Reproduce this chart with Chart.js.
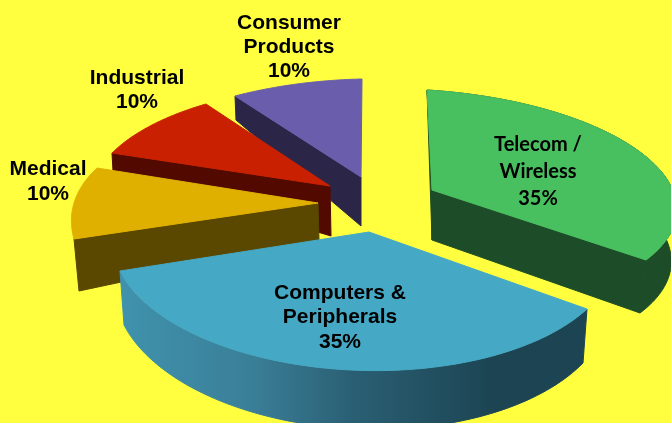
<!DOCTYPE html>
<html>
<head>
<meta charset="utf-8">
<script src="https://cdn.jsdelivr.net/npm/chart.js@4/dist/chart.umd.js"></script>
<style>
    html, body { margin: 0; padding: 0; background: #ffff40; }
    canvas { display: block; }
</style>
</head>
<body>
<canvas id="marketPie" width="671" height="423"></canvas>
<script>
const categories = ['Telecom / Wireless', 'Computers & Peripherals', 'Medical', 'Industrial', 'Consumer Products'];
const shares = [35, 35, 10, 10, 10];

const topColors = ['#48c060', '#45a8c4', '#e0b000', '#c82000', '#6a5dab'];
const wallColors = ['#1d4d28', '#1c4453', '#5a4700', '#520a00', '#2b2548'];

// Screen corners of each exploded slice (apex, arc start, arc middle, arc end)
const sliceShapes = [
    { top: [[432, 190], [427, 90], [640, 152], [646, 260]], low: [[432, 240], [431, 141], [636, 204], [640, 313]], walls: ['sliver', 'end', 'outer'] },
    { top: [[369, 232], [587, 309], [335, 369], [120, 271]], low: [[369, 282], [583, 363], [340, 428], [124, 325]], walls: ['outer'] },
    { top: [[318, 203], [74, 239], [75, 200], [97, 168]], low: [[319, 240], [79, 291], [79, 250], [100, 215]], walls: ['start'] },
    { top: [[330, 186], [112, 153], [152, 125], [206, 104]], low: [[331, 236], [113, 171], [152, 143], [206, 122]], walls: ['start'] },
    { top: [[361, 177], [235, 96], [297, 84], [362, 79]], low: [[361, 226], [236, 120], [297, 108], [362, 103]], walls: ['start'] }
];
const drawOrder = [4, 3, 2, 0, 1];

const labelSpots = [
    { x: 538, y: 145, gap: 27, font: 'bold 20px Lato', lines: ['Telecom /', 'Wireless'] },
    { x: 340, y: 293, gap: 24.5, font: 'bold 21px "Liberation Sans"', lines: ['Computers &', 'Peripherals'] },
    { x: 48, y: 169, gap: 25, font: 'bold 21px "Liberation Sans"', lines: ['Medical'] },
    { x: 137, y: 78, gap: 24, font: 'bold 21px "Liberation Sans"', lines: ['Industrial'] },
    { x: 289, y: 23, gap: 24, font: 'bold 21px "Liberation Sans"', lines: ['Consumer', 'Products'] }
];

// Solve the perspective map that takes four source points onto four screen points
function solveMap(src, dst) {
    const m = [];
    src.forEach((p, i) => {
        const [u, v] = dst[i];
        m.push([p[0], p[1], 1, 0, 0, 0, -p[0] * u, -p[1] * u, u]);
        m.push([0, 0, 0, p[0], p[1], 1, -p[0] * v, -p[1] * v, v]);
    });
    for (let c = 0; c < 8; c++) {
        let best = c;
        for (let r = c + 1; r < 8; r++) {
            if (Math.abs(m[r][c]) > Math.abs(m[best][c])) best = r;
        }
        [m[c], m[best]] = [m[best], m[c]];
        for (let r = 0; r < 8; r++) {
            if (r === c) continue;
            const f = m[r][c] / m[c][c];
            for (let k = c; k < 9; k++) m[r][k] -= f * m[c][k];
        }
    }
    const h = m.map((row, i) => row[8] / row[i]);
    return (x, y) => {
        const w = h[6] * x + h[7] * y + 1;
        return [(h[0] * x + h[1] * y + h[2]) / w, (h[3] * x + h[4] * y + h[5]) / w];
    };
}

function fillPoly(ctx, pts, color) {
    ctx.beginPath();
    pts.forEach((p, i) => (i ? ctx.lineTo(p[0], p[1]) : ctx.moveTo(p[0], p[1])));
    ctx.closePath();
    ctx.fillStyle = color;
    ctx.strokeStyle = color;
    ctx.lineWidth = 1;
    ctx.lineJoin = 'round';
    ctx.fill();
    ctx.stroke(); // hides the hairline seam between neighbouring faces
}

const pie3d = {
    id: 'pie3d',
    // The library works out the slice angles, the plugin only projects them
    beforeDatasetDraw(chart, args) {
        const ctx = chart.ctx;
        const arcs = args.meta.data;
        ctx.save();
        drawOrder.forEach(i => {
            const arc = arcs[i];
            const shape = sliceShapes[i];
            const a0 = arc.startAngle;
            const a1 = arc.endAngle;
            const mid = (a0 + a1) / 2;
            const src = [[0, 0], [Math.cos(a0), Math.sin(a0)], [Math.cos(mid), Math.sin(mid)], [Math.cos(a1), Math.sin(a1)]];
            const topMap = solveMap(src, shape.top);
            const lowMap = solveMap(src, shape.low);
            const topArc = [];
            const lowArc = [];
            for (let s = 0; s <= 80; s++) {
                const a = a0 + (a1 - a0) * s / 80;
                topArc.push(topMap(Math.cos(a), Math.sin(a)));
                lowArc.push(lowMap(Math.cos(a), Math.sin(a)));
            }
            const [A, S, , E] = shape.top;
            const [lowA, lowS, , lowE] = shape.low;

            shape.walls.forEach(wall => {
                if (wall === 'start') fillPoly(ctx, [A, S, lowS, lowA], wallColors[i]);
                if (wall === 'end') fillPoly(ctx, [A, E, lowE, lowA], wallColors[i]);
                if (wall === 'sliver') fillPoly(ctx, [S, A, lowA], wallColors[i]);
                if (wall === 'outer') {
                    let paint = wallColors[i];
                    if (i === 1) {
                        paint = ctx.createLinearGradient(120, 0, 587, 0);
                        paint.addColorStop(0, '#4092ad');
                        paint.addColorStop(0.28, '#3a7f98');
                        paint.addColorStop(0.5, '#2a5f73');
                        paint.addColorStop(0.8, '#1c4453');
                        paint.addColorStop(1, '#1c4453');
                    }
                    fillPoly(ctx, topArc.concat(lowArc.slice().reverse()), paint);
                }
            });
            fillPoly(ctx, [A].concat(topArc), topColors[i]);
        });

        ctx.fillStyle = '#000000';
        ctx.textAlign = 'center';
        ctx.textBaseline = 'middle';
        labelSpots.forEach((spot, i) => {
            ctx.font = spot.font;
            spot.lines.concat(shares[i] + '%').forEach((line, n) => {
                ctx.fillText(line, spot.x, spot.y + n * spot.gap);
            });
        });
        ctx.restore();
        return false;
    }
};

document.addEventListener('DOMContentLoaded', function() {
    const ctx = document.getElementById('marketPie').getContext('2d');
    new Chart(ctx, {
        type: 'pie',
        data: {
            labels: categories,
            datasets: [{
                data: shares,
                backgroundColor: topColors,
                borderWidth: 0
            }]
        },
        options: {
            responsive: false,
            animation: false,
            plugins: {
                legend: { display: false },
                tooltip: { enabled: false }
            }
        },
        plugins: [pie3d]
    });
});
</script>
</body>
</html>
